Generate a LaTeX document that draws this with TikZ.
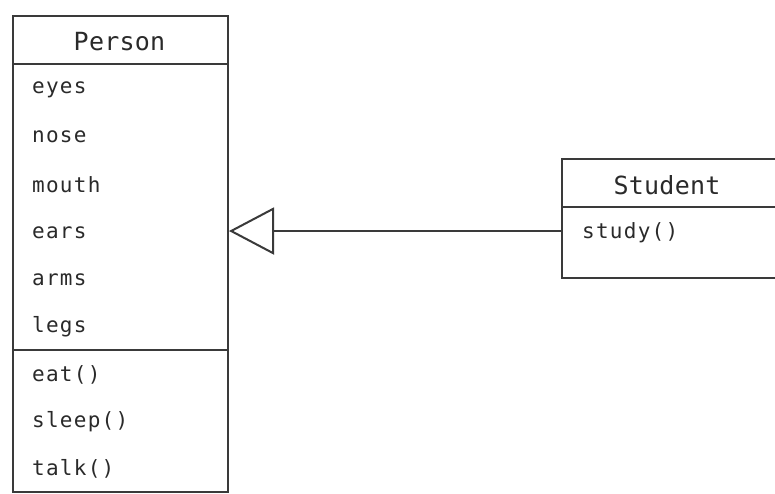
\documentclass[tikz,border=0pt]{standalone}
\usepackage{fontspec}
\newfontfamily\bodyfont[LetterSpace=6]{DejaVu Sans Mono}
\newfontfamily\titlefont[LetterSpace=1]{DejaVu Sans Mono}
\usetikzlibrary{arrows.meta}
\definecolor{linec}{HTML}{3A3A3A}
\definecolor{textc}{HTML}{2A2A2A}
\begin{document}
\begin{tikzpicture}[x=1pt,y=-1pt,
  classbox/.style={draw=linec,line width=2pt,rectangle,inner sep=0pt},
  attr/.style={anchor=west,inner sep=0pt,text=textc,font=\bodyfont\fontsize{21}{21}\selectfont},
  ctitle/.style={inner sep=0pt,text=textc,font=\titlefont\fontsize{25}{25}\selectfont},
  divider/.style={draw=linec,line width=2pt},
  inherit/.style={draw=linec,line width=2pt,-{Triangle[open,length=45pt,width=47pt]}}]
\useasboundingbox[fill=white] (0,0) rectangle (775,493);
% Person class
\node[classbox,minimum width=215pt,minimum height=476pt] (person) at (120.5,254) {};
\node[ctitle] (ptitle) at (119.5,42) {Person};
\draw[divider] (person.west |- 0,64) -- (person.east |- 0,64);
\draw[divider] (person.west |- 0,350) -- (person.east |- 0,350);
\node[attr] (a1) at (32,90) {eyes};
\node[attr] (a2) at (32,137) {nose};
\node[attr] (a3) at (32,185) {mouth};
\node[attr] (a4) at (32,233) {ears};
\node[attr] (a5) at (32,280) {arms};
\node[attr] (a6) at (32,327) {legs};
\node[attr] (m1) at (32,375) {eat()};
\node[attr] (m2) at (32,422) {sleep()};
\node[attr] (m3) at (32,469) {talk()};
% Student class
\node[classbox,minimum width=216pt,minimum height=119pt] (student) at (670,218.5) {};
\node[ctitle] (stitle) at (667,185) {Student};
\draw[divider] (student.west |- 0,207) -- (student.east |- 0,207);
\node[attr] (s1) at (582,233) {study()};
% generalization
\draw[inherit] (student.west |- 0,231) -- (person.east |- 0,231);
\end{tikzpicture}
\end{document}
